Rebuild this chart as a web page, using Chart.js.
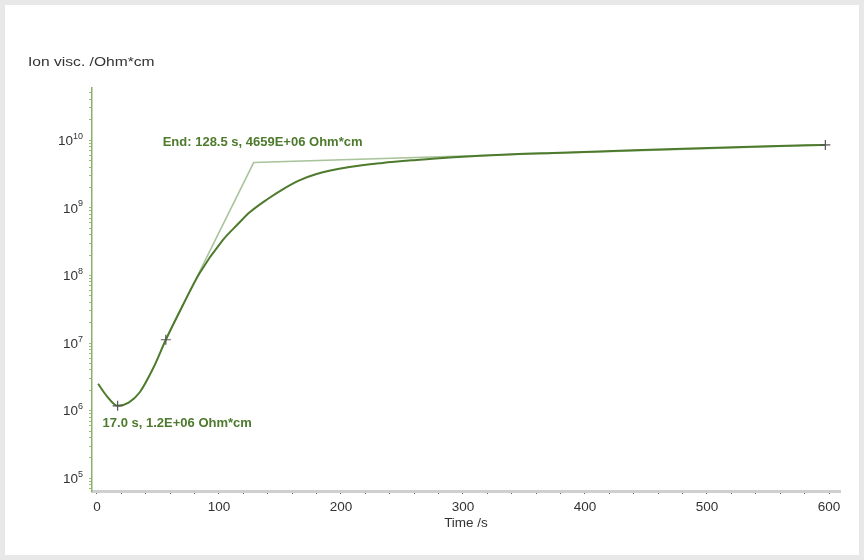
<!DOCTYPE html>
<html>
<head>
<meta charset="utf-8">
<script src="https://cdn.jsdelivr.net/npm/chart.js@4/dist/chart.umd.min.js"></script>
<style>
  html, body { margin: 0; padding: 0; background: #e8e8e8; }
  #marco { position: absolute; left: 5px; top: 5px; width: 854px; height: 550px; background: #fff; }
</style>
</head>
<body>
<div id="marco"><canvas id="miGrafica" width="854" height="550"></canvas></div>
<script>
// curva de viscosidad ionica
const tiempo = [1, 8, 17, 26, 35, 46, 56.5, 70, 84, 103, 115, 125, 140, 152, 165, 180, 207, 234, 262, 289, 341, 380, 440, 494, 550, 597];
const viscosidad = [2.5e6, 1.66e6, 1.18e6, 1.32e6, 1.86e6, 4.2e6, 1.12e7, 3.5e7, 1.07e8, 3.3e8, 5.6e8, 8.5e8, 1.35e9, 1.86e9, 2.5e9, 3.16e9, 4.0e9, 4.6e9, 5.1e9, 5.55e9, 6.2e9, 6.5e9, 7.1e9, 7.6e9, 8.1e9, 8.5e9];
// linea tangente (quiebre en el "End")
const tangenteT = [56.5, 128.5, 597];
const tangenteV = [1.12e7, 4.66e9, 8.5e9];
// marcas "+"
const marcasT = [17, 56.5, 597];
const marcasV = [1.18e6, 1.12e7, 8.5e9];
// textos
const textoFin = 'End: 128.5 s, 4659E+06 Ohm*cm';
const textoMin = '17.0 s, 1.2E+06 Ohm*cm';
const tituloY = 'Ion visc. /Ohm*cm';
const tituloX = 'Time /s';
const xTicks = [0, 100, 200, 300, 400, 500, 600];
const yDecadas = [5, 6, 7, 8, 9, 10];

const verde = '#4d7a2c';
const fuente = '"Liberation Sans", Arial, sans-serif';

const textos = {
  id: 'textos',
  afterDraw(chart) {
    const ctx = chart.ctx;
    const x = chart.scales.x, y = chart.scales.y;
    const izq = chart.chartArea.left;
    ctx.save();
    ctx.fillStyle = '#333';
    ctx.textBaseline = 'middle';
    // etiquetas 10^n del eje y
    for (const e of yDecadas) {
      const py = y.getPixelForValue(Math.pow(10, e));
      ctx.textAlign = 'right';
      ctx.font = '9px ' + fuente;
      const w = ctx.measureText(String(e)).width;
      ctx.fillText(String(e), izq - 9, py - 4);
      ctx.font = '13.5px ' + fuente;
      ctx.fillText('10', izq - 9 - w, py + 1);
    }
    // titulo eje y (algo ensanchado como en el original)
    ctx.textAlign = 'left';
    ctx.font = '13px ' + fuente;
    ctx.translate(izq - 64, chart.chartArea.top - 26);
    ctx.scale(1.2, 1);
    ctx.fillText(tituloY, 0, 0);
    ctx.setTransform(1, 0, 0, 1, 0, 0);
    ctx.fillStyle = verde;
    ctx.font = 'bold 13px ' + fuente;
    ctx.fillText(textoFin, x.getPixelForValue(tangenteT[1]) - 91, y.getPixelForValue(tangenteV[1]) - 20);
    ctx.fillText(textoMin, x.getPixelForValue(marcasT[0]) - 15, y.getPixelForValue(marcasV[0]) + 18);
    ctx.restore();
  }
};

const ctx = document.getElementById('miGrafica').getContext('2d');
new Chart(ctx, {
  type: 'scatter',
  data: {
    datasets: [
      {
        label: 'tangente',
        data: tangenteT.map((t, i) => ({x: t, y: tangenteV[i]})),
        showLine: true,
        borderColor: '#a9c49a',
        borderWidth: 1.6,
        pointRadius: 0,
        order: 3
      },
      {
        label: 'curva',
        data: tiempo.map((t, i) => ({x: t, y: viscosidad[i]})),
        showLine: true,
        borderColor: verde,
        borderWidth: 2,
        cubicInterpolationMode: 'monotone',
        pointRadius: 0,
        order: 2
      },
      {
        label: 'marcas',
        data: marcasT.map((t, i) => ({x: t, y: marcasV[i]})),
        pointStyle: 'cross',
        pointRadius: 5,
        borderColor: '#555',
        borderWidth: 1.2,
        order: 1
      }
    ]
  },
  options: {
    responsive: false,
    animation: false,
    layout: { padding: { top: 83, right: 19, left: 0, bottom: 24 } },
    plugins: { legend: { display: false }, tooltip: { enabled: false } },
    scales: {
      x: {
        type: 'linear',
        min: -4,
        max: 609,
        afterBuildTicks: s => {
          const t = [];
          for (let v = 0; v <= 600; v += 20) t.push({value: v});
          s.ticks = t;
        },
        afterFit: s => { s.height = 40; },
        border: { color: '#cfcfcf', width: 3 },
        grid: { drawOnChartArea: false, drawTicks: true, tickLength: 3, color: '#666' },
        ticks: {
          autoSkip: false,
          maxRotation: 0,
          padding: 5,
          color: '#333',
          font: { family: fuente, size: 13.5 },
          callback: v => xTicks.includes(v) ? String(v) : ''
        },
        title: {
          display: true,
          text: tituloX,
          color: '#333',
          font: { family: fuente, size: 13.5 },
          padding: { top: 0, bottom: 0 }
        }
      },
      y: {
        type: 'logarithmic',
        min: 6.5e4,
        max: 5.9e10,
        afterBuildTicks: s => {
          const t = [];
          for (let e = 4; e <= 10; e++) {
            for (let m = 1; m <= 9; m++) {
              const v = m * Math.pow(10, e);
              if (v >= s.min && v <= s.max) t.push({value: v});
            }
          }
          s.ticks = t;
        },
        afterFit: s => { s.width = 87; },
        border: { color: '#8ab06a', width: 1.5 },
        grid: { drawOnChartArea: false, drawTicks: true, tickLength: 3, color: '#9cbc80' },
        ticks: {
          autoSkip: false,
          display: true,
          callback: () => ''
        }
      }
    }
  },
  plugins: [textos]
});
</script>
</body>
</html>
